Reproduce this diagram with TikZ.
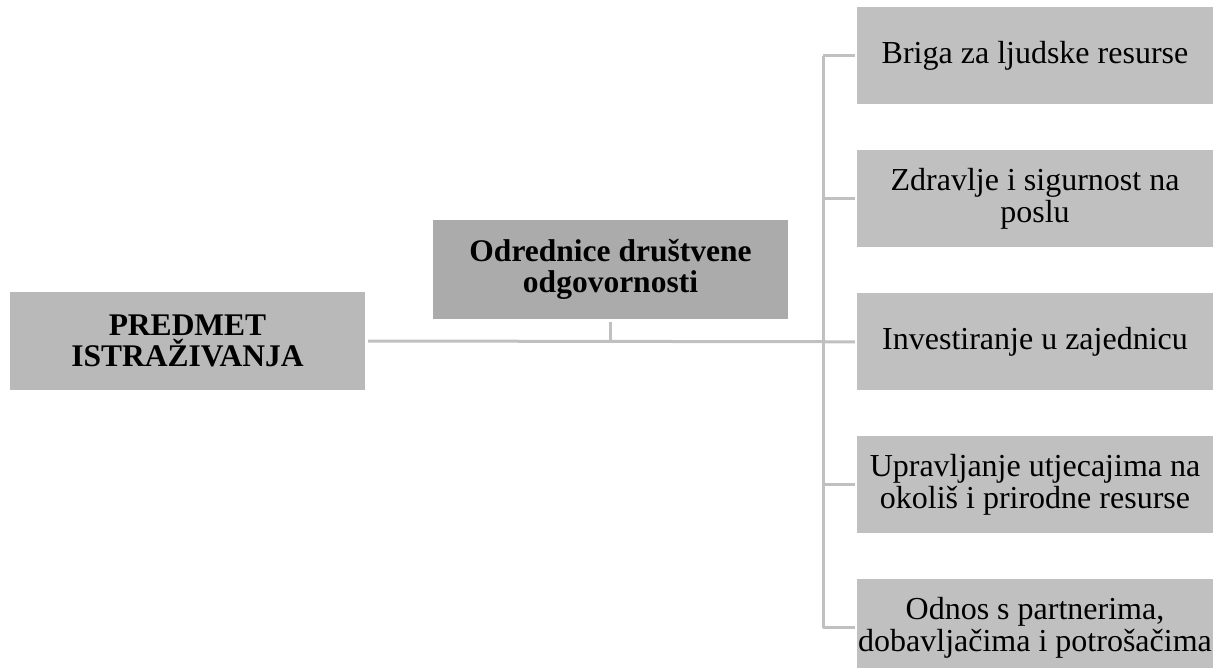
\documentclass[tikz,border=0pt]{standalone}
\usepackage{fontspec}
\setmainfont{Liberation Serif}
\usetikzlibrary{positioning}

\definecolor{linegray}{HTML}{C0C0C0}
\definecolor{boxgray}{HTML}{C0C0C0}
\definecolor{leftgray}{HTML}{B9B9B9}
\definecolor{midgray}{HTML}{ABABAB}

\begin{document}
\begin{tikzpicture}[
    x=1pt, y=-1pt,
    node distance=45.5pt,
    box/.style={rectangle, fill=boxgray, minimum width=356pt, minimum height=97pt, inner sep=0pt, align=center, font=\fontsize{32}{32.5}\selectfont},
    headbox/.style={rectangle, minimum width=355pt, minimum height=98pt, inner sep=0pt, align=center, font=\fontsize{31.5}{30.5}\selectfont\bfseries},
    conn/.style={draw=linegray, line width=3pt}
]
    \useasboundingbox (0,0) rectangle (1220,668);
    \clip (0,0) rectangle (1220,668);

    % Subject
    \node[headbox, fill=leftgray] (pred) at (187.5,341) {PREDMET\\ISTRAŽIVANJA};

    % Determinants
    \node[headbox, fill=midgray] (odg) at (610.5,269.5) {Odrednice društvene\\odgovornosti};

    % Areas
    \node[box] (briga) at (1035,56) {Briga za ljudske resurse};
    \node[box, below=of briga] (zdr) {Zdravlje i sigurnost na\\poslu};
    \node[box, below=of zdr] (inv) {Investiranje u zajednicu};
    \node[box, below=of inv] (upr) {Upravljanje utjecajima na\\okoliš i prirodne resurse};
    \node[box, below=of upr] (odn) {Odnos s partnerima,\\dobavljačima i potrošačima};

    % Connectors
    \coordinate (trunk) at (823,341);
    \draw[conn, shorten <=3pt, shorten >=2pt] (pred.east) -- (inv.west);
    \draw[conn] ([yshift=-3pt]odg.south) -- (odg.south |- inv.west);
    \draw[conn] (briga.west -| trunk) -- (odn.west -| trunk);
    \foreach \n in {briga,zdr,upr,odn}
        \draw[conn, shorten >=2pt] (\n.west -| trunk) -- (\n.west);

\end{tikzpicture}
\end{document}
